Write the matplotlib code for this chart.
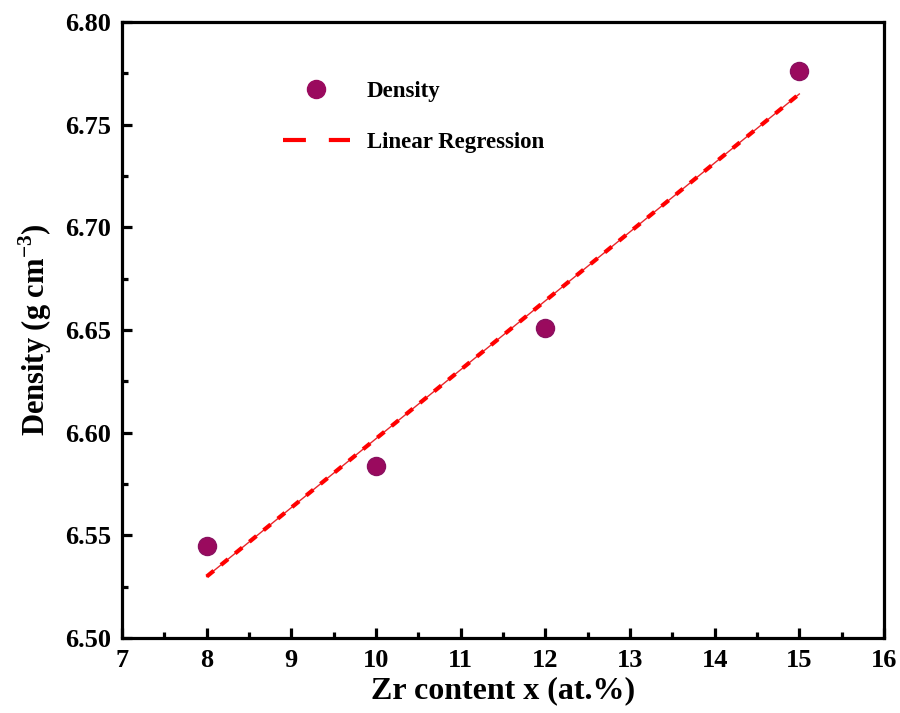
import matplotlib
matplotlib.use("Agg")
import matplotlib.pyplot as plt
from matplotlib.ticker import MultipleLocator
from matplotlib.lines import Line2D

# data
zr_content = [8, 10, 12, 15]
density = [6.545, 6.584, 6.651, 6.776]
fit_x = [8, 15]
fit_y = [6.530, 6.765]

plt.rcParams['font.family'] = ['Liberation Serif', 'DejaVu Serif']
plt.rcParams['font.weight'] = 'bold'
plt.rcParams['mathtext.fontset'] = 'custom'
plt.rcParams['mathtext.rm'] = 'Liberation Serif:bold'
plt.rcParams['mathtext.bf'] = 'Liberation Serif:bold'

fig = plt.figure(figsize=(9, 7.13), dpi=100)
ax = fig.add_axes([0.1356, 0.105, 0.8466, 0.864])

# regression: thin solid line under a dashed one
ax.plot(fit_x, fit_y, color='#e8262b', lw=1.0, zorder=2)
ax.plot(fit_x, fit_y, color='#ff0000', lw=3.0, dashes=(2.2, 2.2), zorder=3)
ax.plot(zr_content, density, 'o', color='#9a0a5e', markersize=13,
        markeredgecolor='#8a1060', zorder=4)

ax.set_xlim(7, 16)
ax.set_ylim(6.50, 6.80)
ax.xaxis.set_major_locator(MultipleLocator(1))
ax.xaxis.set_minor_locator(MultipleLocator(0.5))
ax.yaxis.set_major_locator(MultipleLocator(0.05))
ax.yaxis.set_minor_locator(MultipleLocator(0.025))
ax.yaxis.set_major_formatter(plt.FormatStrFormatter('%.2f'))

for s in ax.spines.values():
    s.set_linewidth(2.3)
ax.tick_params(which='major', direction='in', length=7.5, width=2.3,
               labelsize=19, pad=8)
ax.tick_params(which='minor', direction='in', length=4, width=2.3)
ax.tick_params(top=False, right=False, which='both')

ax.set_xlabel('Zr content x (at.%)', fontsize=23, fontweight='bold', labelpad=3)
ax.set_ylabel('Density (g cm$^{-3}$)', fontsize=22, fontweight='bold', labelpad=8)

# legend: marker entry and a coarse dashed line entry
handles = [Line2D([], [], ls='none', marker='o', color='#9a0a5e', markersize=13),
           Line2D([], [], color='#ff0000', lw=3.0, dashes=(5.5, 5.5))]
ax.legend(handles, ['Density', 'Linear Regression'], loc='upper left',
          bbox_to_anchor=(0.211, 0.904), frameon=False, fontsize=16.5,
          handlelength=2.93, labelspacing=1.28, handletextpad=0.74,
          borderpad=0, borderaxespad=0)

fig.savefig('out.png', dpi=100)
